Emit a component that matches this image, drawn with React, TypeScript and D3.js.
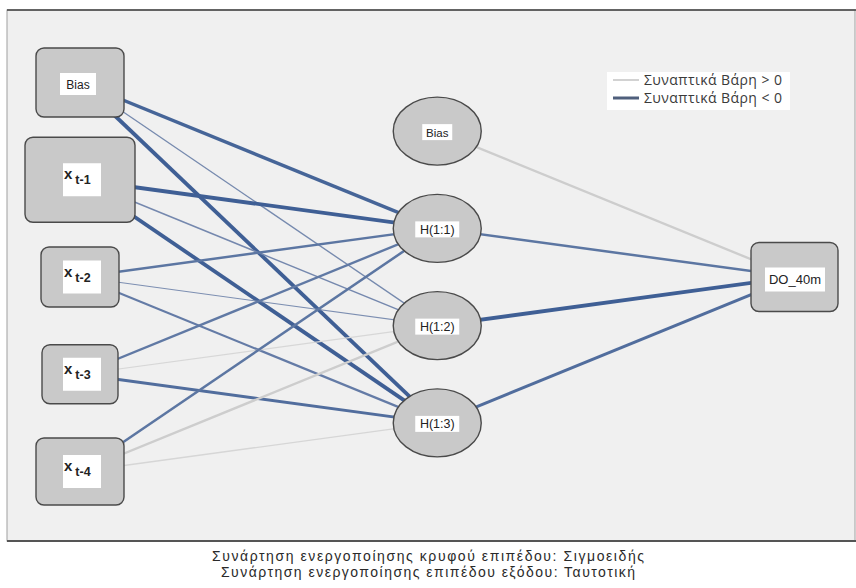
import React, { useEffect, useRef } from 'react';
import * as d3 from 'd3';

// Network layers (SPSS multilayer perceptron diagram)
const inputLabels = ['Bias', 't-1', 't-2', 't-3', 't-4'];
const hiddenLabels = ['Bias', 'H(1:1)', 'H(1:2)', 'H(1:3)'];
const outputLabels = ['DO_40m'];

// Synaptic weights, rows = input nodes, cols = H(1:1), H(1:2), H(1:3)
const inputToHiddenWeights = [
  [-0.85, -0.2, -0.95],
  [-0.95, -0.22, -0.95],
  [-0.55, -0.12, -0.45],
  [-0.5, 0.15, -0.7],
  [-0.55, 0.5, 0.2],
];
// hidden Bias, H(1:1), H(1:2), H(1:3) -> DO_40m
const hiddenToOutputWeights = [0.5, -0.55, -0.95, -0.7];

const legendLabels = ['Συναπτικά Βάρη > 0', 'Συναπτικά Βάρη < 0'];
const captionLines = [
  'Συνάρτηση ενεργοποίησης κρυφού επιπέδου: Σιγμοειδής',
  'Συνάρτηση ενεργοποίησης επιπέδου εξόδου: Ταυτοτική',
];

const W = 856;
const H = 588;
const NEG = '#3b5c93';

// node box sizes [w, h]
const inputBoxSize = [[88, 69], [110, 85], [78, 60], [76, 59], [88, 67]];
const outputBoxSize = [87, 69];
const captionWidths = [432, 414];

const App: React.FC = () => {
  const svgRef = useRef<SVGSVGElement>(null);

  useEffect(() => {
    if (!svgRef.current) return;
    const svg = d3.select(svgRef.current);
    svg.selectAll('*').remove();

    const xLayer = d3.scalePoint<string>()
      .domain(['input', 'hidden', 'output'])
      .range([80, 794.5]);
    const yRow = d3.scaleLinear().domain([0, 4]).range([82.5, 471.5]);

    const widthScale = d3.scaleLinear().domain([0, 1]).range([0.7, 4]);
    const negColor = d3.scaleLinear<string>().domain([0, 1]).range(['#8595b5', NEG]);
    const posColor = d3.scaleLinear<string>().domain([0, 1]).range(['#dcdcdc', '#bdbdbd']);
    const edgeColor = (w: number) => (w < 0 ? negColor(Math.abs(w)) : posColor(Math.abs(w)));

    const inputPos = inputLabels.map((_, i) => ({ x: xLayer('input')!, y: yRow(i) }));
    const hiddenPos = hiddenLabels.map((_, i) => ({ x: xLayer('hidden')!, y: yRow(i + 0.5) }));
    const outputPos = { x: xLayer('output')!, y: yRow(2) };

    // frame
    svg.append('rect').attr('width', W).attr('height', H).attr('fill', '#ffffff');
    svg.append('rect')
      .attr('x', 7).attr('y', 10).attr('width', 848).attr('height', 531)
      .attr('fill', '#f0f0f0').attr('stroke', '#a0a0a0').attr('stroke-width', 1);
    svg.append('line').attr('x1', 7).attr('x2', 856).attr('y1', 10).attr('y2', 10)
      .attr('stroke', '#404040').attr('stroke-width', 1.5);
    svg.append('line').attr('x1', 7).attr('x2', 856).attr('y1', 541).attr('y2', 541)
      .attr('stroke', '#555555').attr('stroke-width', 2);

    // edges
    const edges = svg.append('g');
    inputToHiddenWeights.forEach((row, i) => {
      row.forEach((w, j) => {
        const a = inputPos[i];
        const b = hiddenPos[j + 1];
        edges.append('line')
          .attr('x1', a.x).attr('y1', a.y).attr('x2', b.x).attr('y2', b.y)
          .attr('stroke', edgeColor(w))
          .attr('stroke-width', widthScale(Math.abs(w)));
      });
    });
    hiddenToOutputWeights.forEach((w, j) => {
      const a = hiddenPos[j];
      edges.append('line')
        .attr('x1', a.x).attr('y1', a.y).attr('x2', outputPos.x).attr('y2', outputPos.y)
        .attr('stroke', edgeColor(w))
        .attr('stroke-width', widthScale(Math.abs(w)));
    });

    const nodeFill = '#c9c9c9';
    const nodeStroke = '#4a4a4a';
    const labelFont = '"Liberation Sans", Arial, sans-serif';

    const whiteBox = (cx: number, cy: number, w: number, h: number) =>
      svg.append('rect')
        .attr('x', cx - w / 2).attr('y', cy - h / 2).attr('width', w).attr('height', h)
        .attr('fill', '#ffffff');

    // input nodes
    inputLabels.forEach((lab, i) => {
      const p = inputPos[i];
      const [bw, bh] = inputBoxSize[i];
      svg.append('rect')
        .attr('x', p.x - bw / 2).attr('y', p.y - bh / 2)
        .attr('width', bw).attr('height', bh)
        .attr('rx', 8).attr('ry', 8)
        .attr('fill', nodeFill).attr('stroke', nodeStroke).attr('stroke-width', 1.4);
      if (lab === 'Bias') {
        whiteBox(p.x - 2, p.y + 1.5, 36, 22);
        svg.append('text')
          .attr('x', p.x - 2).attr('y', p.y + 6)
          .attr('text-anchor', 'middle')
          .style('font-family', labelFont).style('font-size', '12px').style('fill', '#222')
          .text(lab);
      } else {
        whiteBox(p.x + 2, p.y, 38, 33);
        const t = svg.append('text')
          .attr('x', p.x - 16).attr('y', p.y - 0.5)
          .style('font-family', labelFont).style('fill', '#222').style('font-weight', 'bold');
        t.append('tspan').style('font-size', '15px').text('x');
        t.append('tspan').attr('dx', 3).attr('dy', 5).style('font-size', '12.5px').text(lab);
      }
    });

    // hidden nodes
    hiddenLabels.forEach((lab, j) => {
      const p = hiddenPos[j];
      svg.append('ellipse')
        .attr('cx', p.x).attr('cy', p.y).attr('rx', 44).attr('ry', 34)
        .attr('fill', nodeFill).attr('stroke', nodeStroke).attr('stroke-width', 1.4);
      whiteBox(p.x, p.y + 1, lab === 'Bias' ? 30 : 44, 16);
      svg.append('text')
        .attr('x', p.x).attr('y', p.y + 5.5)
        .attr('text-anchor', 'middle')
        .style('font-family', labelFont).style('font-size', lab === 'Bias' ? '11.5px' : '12.5px')
        .style('fill', '#222')
        .text(lab);
    });

    // output node
    outputLabels.forEach((lab) => {
      const [bw, bh] = outputBoxSize;
      svg.append('rect')
        .attr('x', outputPos.x - bw / 2).attr('y', outputPos.y - bh / 2)
        .attr('width', bw).attr('height', bh).attr('rx', 8).attr('ry', 8)
        .attr('fill', nodeFill).attr('stroke', nodeStroke).attr('stroke-width', 1.4);
      whiteBox(outputPos.x + 0.5, outputPos.y + 2.5, 60, 24);
      svg.append('text')
        .attr('x', outputPos.x + 0.5).attr('y', outputPos.y + 7)
        .attr('text-anchor', 'middle')
        .style('font-family', labelFont).style('font-size', '13px').style('fill', '#222')
        .text(lab);
    });

    // legend
    const legend = svg.append('g').attr('transform', 'translate(607,72)');
    legend.append('rect').attr('width', 183).attr('height', 38).attr('fill', '#ffffff');
    legendLabels.forEach((lab, i) => {
      const y = 8 + i * 18;
      legend.append('line')
        .attr('x1', 6).attr('x2', 32).attr('y1', y).attr('y2', y)
        .attr('stroke', i === 0 ? '#d2d2d2' : '#4f5f7c')
        .attr('stroke-width', i === 0 ? 2 : 3);
      legend.append('text')
        .attr('x', 37).attr('y', y + 5)
        .attr('textLength', 138).attr('lengthAdjust', 'spacing')
        .style('font-family', '"Open Sans", sans-serif').style('font-size', '14px')
        .style('fill', '#3a3a3a')
        .text(lab);
    });

    // caption
    captionLines.forEach((line, i) => {
      svg.append('text')
        .attr('x', 428).attr('y', 560.5 + i * 16.5)
        .attr('text-anchor', 'middle')
        .attr('textLength', captionWidths[i]).attr('lengthAdjust', 'spacing')
        .style('font-family', '"Liberation Sans", Arial, sans-serif').style('font-size', '14px')
        .style('fill', '#2a2a2a')
        .text(line);
    });
  }, []);

  return (
    <svg
      ref={svgRef}
      width={W}
      height={H}
      style={{ position: 'absolute', left: 0, top: 0, display: 'block' }}
    />
  );
};

export default App;
